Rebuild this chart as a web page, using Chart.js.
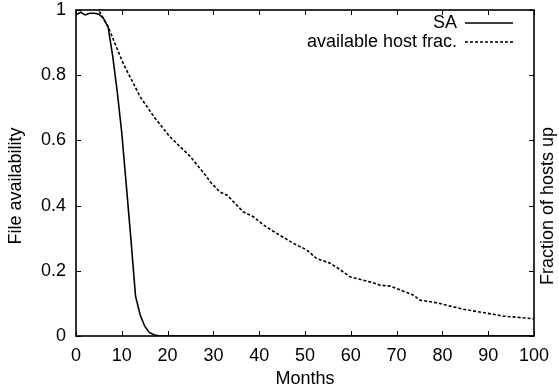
<!DOCTYPE html>
<html>
<head>
<meta charset="utf-8">
<script src="https://cdn.jsdelivr.net/npm/chart.js@4.4.1/dist/chart.umd.min.js"></script>
<style>
  html, body { margin: 0; padding: 0; background: #fff; }
  #wrap { width: 559px; height: 392px; }
</style>
</head>
<body>
<div id="wrap"><canvas id="chart" width="559" height="392"></canvas></div>
<script>
// file availability (SA) over time
const saMonths = [0, 1, 2, 3, 4, 5, 6, 7, 8, 9, 10, 11, 12, 13, 14, 15, 16, 17, 18, 19, 20, 100];
const saValues = [0.985, 0.993, 0.985, 0.99, 0.99, 0.987, 0.974, 0.948, 0.86, 0.75, 0.622, 0.46, 0.295, 0.122, 0.065, 0.03, 0.011, 0.004, 0.001, 0, 0, 0];

// fraction of hosts still up
const hostMonths = [3, 5, 7, 10.3, 14, 17, 20.5, 25, 28.5, 29.3, 31.4, 33, 36.5, 38.7, 41, 43.8, 47.5, 50.4, 52.5, 55.5, 57.3, 59.8, 64.2, 66.4, 68.6, 73.6, 75.1, 78.7, 84.6, 89.7, 93.3, 100];
const hostValues = [1.05, 0.998, 0.949, 0.836, 0.734, 0.673, 0.611, 0.55, 0.489, 0.473, 0.442, 0.432, 0.381, 0.366, 0.34, 0.315, 0.284, 0.264, 0.238, 0.223, 0.207, 0.182, 0.166, 0.156, 0.153, 0.126, 0.11, 0.102, 0.082, 0.07, 0.061, 0.053];

const xTicks = [0, 10, 20, 30, 40, 50, 60, 70, 80, 90, 100];
const yTicks = [0, 0.2, 0.4, 0.6, 0.8, 1];
const yTickLabels = ['0', '0.2', '0.4', '0.6', '0.8', '1'];

const FONT = '"Liberation Sans", Arial, Helvetica, sans-serif';
const FONT_SIZE = 18;

const legendItems = [
  { label: 'SA', dash: [] },
  { label: 'available host frac.', dash: [3, 2] }
];

// gnuplot style box: frame, inward ticks on all four sides, legend, y labels
const framePlugin = {
  id: 'frame',
  afterDraw(chart) {
    const ctx = chart.ctx;
    const a = chart.chartArea;
    const xs = chart.scales.x, ys = chart.scales.y;
    ctx.save();
    ctx.strokeStyle = '#000';
    ctx.lineWidth = 1;
    xTicks.forEach(t => {
      const px = Math.round(xs.getPixelForValue(t)) + 0.5;
      ctx.beginPath();
      ctx.moveTo(px, a.bottom); ctx.lineTo(px, a.bottom - 5);
      ctx.moveTo(px, a.top); ctx.lineTo(px, a.top + 5);
      ctx.stroke();
    });
    yTicks.forEach(t => {
      const py = Math.round(ys.getPixelForValue(t)) + 0.5;
      ctx.beginPath();
      ctx.moveTo(a.left, py); ctx.lineTo(a.left + 5, py);
      ctx.moveTo(a.right, py); ctx.lineTo(a.right - 5, py);
      ctx.stroke();
    });
    ctx.lineWidth = 1.6;
    ctx.strokeRect(a.left, a.top, a.right - a.left, a.bottom - a.top);

    // legend
    ctx.font = FONT_SIZE + 'px ' + FONT;
    ctx.fillStyle = '#000';
    ctx.textAlign = 'right';
    ctx.textBaseline = 'middle';
    legendItems.forEach((it, i) => {
      const y = 23 + i * 19;
      ctx.fillText(it.label, 457, y);
      ctx.beginPath();
      ctx.setLineDash(it.dash);
      ctx.lineWidth = 1.5;
      ctx.moveTo(465, y); ctx.lineTo(513, y);
      ctx.stroke();
    });
    ctx.setLineDash([]);

    // axis titles, read bottom to top on both sides
    ctx.textAlign = 'center';
    [['File availability', 16, 186], ['Fraction of hosts up', 548, 206]].forEach(([txt, x, y]) => {
      ctx.save();
      ctx.translate(x, y);
      ctx.rotate(-Math.PI / 2);
      ctx.fillText(txt, 0, 0);
      ctx.restore();
    });
    ctx.restore();
  }
};

new Chart(document.getElementById('chart'), {
  type: 'line',
  data: {
    datasets: [
      {
        label: 'SA',
        data: saMonths.map((m, i) => ({ x: m, y: saValues[i] })),
        borderColor: '#000',
        borderWidth: 1.6,
        pointRadius: 0,
        tension: 0
      },
      {
        label: 'available host frac.',
        data: hostMonths.map((m, i) => ({ x: m, y: hostValues[i] })),
        borderColor: '#000',
        borderWidth: 1.6,
        borderDash: [3, 2],
        pointRadius: 0,
        tension: 0,
        clip: 0
      }
    ]
  },
  options: {
    responsive: false,
    animation: false,
    layout: { padding: { top: 10, right: 25, left: 0, bottom: 0 } },
    plugins: { legend: { display: false }, tooltip: { enabled: false } },
    scales: {
      x: {
        type: 'linear',
        min: 0, max: 100,
        afterFit: s => { s.height = 56; s.paddingLeft = 0; s.paddingRight = 0; },
        afterBuildTicks: s => { s.ticks = xTicks.map(v => ({ value: v })); },
        grid: { display: false, drawTicks: false },
        border: { display: false },
        ticks: { color: '#000', padding: 9, maxRotation: 0, font: { family: FONT, size: FONT_SIZE } },
        title: { display: true, text: 'Months', color: '#000', padding: { top: 0, bottom: 2 }, font: { family: FONT, size: FONT_SIZE } }
      },
      y: {
        min: 0, max: 1,
        afterFit: s => { s.width = 76; s.paddingTop = 0; s.paddingBottom = 0; },
        afterBuildTicks: s => { s.ticks = yTicks.map(v => ({ value: v })); },
        grid: { display: false, drawTicks: false },
        border: { display: false },
        ticks: {
          color: '#000', padding: 10, font: { family: FONT, size: FONT_SIZE },
          callback: v => yTickLabels[yTicks.indexOf(v)]
        }
      }
    }
  },
  plugins: [framePlugin]
});
</script>
</body>
</html>
